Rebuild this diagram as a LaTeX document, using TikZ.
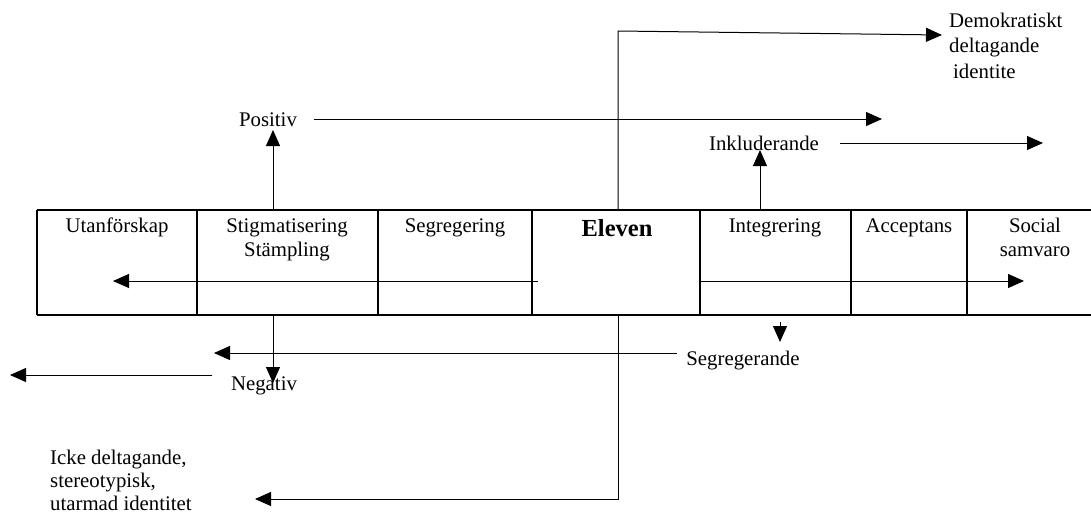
\documentclass[tikz,border=0pt]{standalone}
\usepackage{fontspec}
\setmainfont{Liberation Serif}
\usetikzlibrary{arrows.meta}
\begin{document}
\begin{tikzpicture}[x=1pt,y=-1pt,
  lbl/.style={font=\fontsize{20.8}{24}\selectfont, inner sep=0pt},
  arr/.style={line width=1pt, -{Triangle[length=16pt,width=14pt]}},
  gridline/.style={line width=1.1pt}]
\useasboundingbox (0,0) rectangle (1091,515);
% table
\draw[gridline] (37,210) -- (1091,210);
\draw[gridline] (37,315) -- (1091,315);
\foreach \x in {37,197,378,532,700,851,967} \draw[gridline] (\x,210) -- (\x,315);
% cell labels (base anchor of multi-line nodes = last line)
\node[lbl,anchor=base] (utan) at (117,232) {Utanförskap};
\node[lbl,anchor=base,align=center] (stig) at (287,256) {Stigmatisering\\Stämpling};
\node[lbl,anchor=base] (segr) at (455,232) {Segregering};
\node[inner sep=0pt,anchor=base,font=\bfseries\fontsize{24.5}{28}\selectfont] (elev) at (617,236) {Eleven};
\node[lbl,anchor=base] (integ) at (775,232) {Integrering};
\node[lbl,anchor=base] (acc) at (909,232) {Acceptans};
\node[lbl,anchor=base,align=center] (soc) at (1035,256) {Social\\samvaro};
% outer labels
\node[lbl,anchor=base] (pos) at (268,126) {Positiv};
\node[lbl,anchor=base] (inkl) at (764,150) {Inkluderande};
\node[lbl,anchor=base west,align=left,font=\fontsize{20.8}{25.5}\selectfont] (demo) at (949,78) {Demokratiskt\\deltagande\\\hspace{4pt}identite};
\node[lbl,anchor=base] (segde) at (743,365) {Segregerande};
\node[lbl,anchor=base] (neg) at (264,390) {Negativ};
\node[lbl,anchor=base west,align=left,font=\fontsize{20.8}{23}\selectfont] (icke) at (50,510) {Icke deltagande,\\stereotypisk,\\utarmad identitet};
% coordinates
\coordinate (eTop) at (618,210);
\coordinate (eCorner) at (618,31);
\coordinate (eEnd) at (942,35);
\coordinate (pBase) at (273,210);
\coordinate (pTip) at (273,130);
\coordinate (pS) at (314,119);
\coordinate (pE) at (882,119);
\coordinate (iBase) at (760,210);
\coordinate (iTip) at (760,150);
\coordinate (iS) at (840,143);
\coordinate (iE) at (1043,143);
\coordinate (rlS) at (538,281);
\coordinate (rlE) at (113,281);
\coordinate (rrS) at (700,281);
\coordinate (rrE) at (1024,281);
\coordinate (sdS) at (780,322);
\coordinate (sdE) at (780,342);
\coordinate (slS) at (677,353);
\coordinate (slE) at (214,353);
\coordinate (nS) at (273,315);
\coordinate (nE) at (273,383);
\coordinate (llS) at (212,375);
\coordinate (llE) at (10,375);
\coordinate (eBot) at (618,315);
\coordinate (bCorner) at (618,499);
\coordinate (bE) at (255,499);
% arrows
\draw[arr] (eTop) -- (eCorner) -- (eEnd);
\draw[arr] (pBase) -- (pTip);
\draw[arr] (pS) -- (pE);
\draw[arr] (iBase) -- (iTip);
\draw[arr] (iS) -- (iE);
\draw[arr] (rlS) -- (rlE);
\draw[arr] (rrS) -- (rrE);
\draw[arr] (sdS) -- (sdE);
\draw[arr] (slS) -- (slE);
\draw[arr] (nS) -- (nE);
\draw[arr] (llS) -- (llE);
\draw[arr] (eBot) -- (bCorner) -- (bE);
\end{tikzpicture}
\end{document}
